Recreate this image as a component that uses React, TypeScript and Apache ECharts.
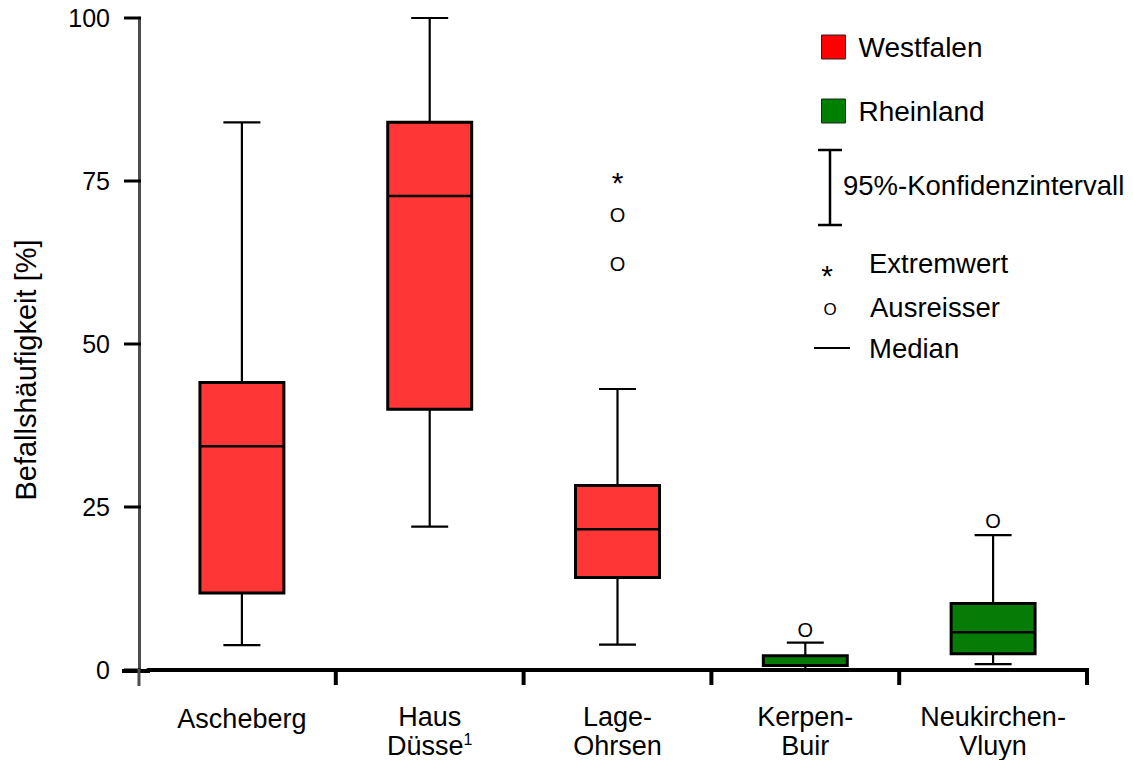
import React, { useEffect, useRef } from "react";
import * as echarts from "echarts";

// ---- data ----
const categories = ["Ascheberg", "Haus Düsse", "Lage-Ohrsen", "Kerpen-Buir", "Neukirchen-Vluyn"];
const tickLabels = ["{asch|Ascheberg}", "Haus\nDüsse{sup|1}", "Lage-\nOhrsen", "Kerpen-\nBuir", "Neukirchen-\nVluyn"];
const region = ["Westfalen", "Westfalen", "Westfalen", "Rheinland", "Rheinland"];
const whiskerLow = [3.8, 22.0, 3.9, 0.1, 0.9];
const quartile1 = [11.8, 40.0, 14.2, 0.7, 2.5];
const median = [34.3, 72.7, 21.6, 0.7, 5.8];
const quartile3 = [44.1, 84.0, 28.3, 2.2, 10.2];
const whiskerHigh = [84.0, 100, 43.1, 4.2, 20.7];
const outlierSites = ["Lage-Ohrsen", "Lage-Ohrsen", "Kerpen-Buir", "Neukirchen-Vluyn"];
const outlierValues = [69.8, 62.3, 6.2, 22.8];
const extremeSites = ["Lage-Ohrsen"];
const extremeValues = [75.9];
const yTickValues = [0, 25, 50, 75, 100];

const FONT = "'Liberation Sans', Arial, Helvetica, sans-serif";
const boxFill: Record<string, string> = { Westfalen: "#ff3636", Rheinland: "#067c06" };
const legendFill: Record<string, string> = { Westfalen: "#ff0000", Rheinland: "#008000" };
const Y_OFFSET = 9;

function boxData(name: string) {
  const out: any[] = [];
  categories.forEach((c, i) => {
    if (region[i] === name) {
      out.push([c, whiskerLow[i], quartile1[i], median[i], quartile3[i], whiskerHigh[i]]);
    }
  });
  return out;
}

function renderBox(fill: string) {
  return (params: any, api: any) => {
    const x = api.value(0);
    const pLo = api.coord([x, api.value(1)]);
    const pQ1 = api.coord([x, api.value(2)]);
    const pMd = api.coord([x, api.value(3)]);
    const pQ3 = api.coord([x, api.value(4)]);
    const pHi = api.coord([x, api.value(5)]);
    const band = api.size([1, 0])[0];
    const bw = band * 0.447;
    const cw = band * 0.197;
    const cx = pLo[0];
    const ls = { stroke: "#000", lineWidth: 2.2 };
    return {
      type: "group",
      children: [
        { type: "line", shape: { x1: cx, y1: pQ3[1], x2: cx, y2: pHi[1] }, style: ls },
        { type: "line", shape: { x1: cx, y1: pQ1[1], x2: cx, y2: pLo[1] }, style: ls },
        { type: "line", shape: { x1: cx - cw / 2, y1: pHi[1], x2: cx + cw / 2, y2: pHi[1] }, style: ls },
        { type: "line", shape: { x1: cx - cw / 2, y1: pLo[1], x2: cx + cw / 2, y2: pLo[1] }, style: ls },
        {
          type: "rect",
          shape: { x: cx - bw / 2, y: pQ3[1], width: bw, height: pQ1[1] - pQ3[1] },
          style: { fill, stroke: "#000", lineWidth: 3 },
        },
        { type: "line", shape: { x1: cx - bw / 2, y1: pMd[1], x2: cx + bw / 2, y2: pMd[1] }, style: { stroke: "#000", lineWidth: 2.5 } },
      ],
    };
  };
}

function renderGlyph(glyph: string, size: number, dy: number) {
  return (params: any, api: any) => {
    const p = api.coord([api.value(0), api.value(1)]);
    return {
      type: "text",
      x: p[0],
      y: p[1] + dy,
      style: { text: glyph, fontSize: size, fontFamily: FONT, fill: "#000", align: "center", verticalAlign: "middle" },
    };
  };
}

// y-axis tick marks (left of the offset axis line)
function renderYTick(params: any, api: any) {
  const c = api.coord([api.value(0), api.value(1)]);
  const band = api.size([1, 0])[0];
  const ax = c[0] - band / 2 - Y_OFFSET;
  return { type: "line", shape: { x1: ax - 15, y1: c[1], x2: ax + 2, y2: c[1] }, style: { stroke: "#000", lineWidth: 3 } };
}

// x-axis boundary tick marks
function renderXTick(params: any, api: any) {
  const c = api.coord([api.value(0), api.value(1)]);
  const band = api.size([1, 0])[0];
  const x = c[0] + (api.value(2) * band) / 2;
  return { type: "line", shape: { x1: x, y1: c[1] - 2, x2: x, y2: c[1] + 15 }, style: { stroke: "#000", lineWidth: 4 } };
}

export default function App() {
  const ref = useRef<HTMLDivElement>(null);
  useEffect(() => {
    if (!ref.current) return;
    const chart = echarts.init(ref.current, null, { renderer: "svg" });
    const regions = ["Westfalen", "Rheinland"];
    const xTickData = categories
      .slice(1)
      .map((c) => [c, 0, -1])
      .concat([[categories[categories.length - 1], 0, 1]]);
    const option: any = {
      animation: false,
      backgroundColor: "#fff",
      textStyle: { fontFamily: FONT },
      grid: { left: 148, right: 46, top: 18, bottom: 89 },
      legend: {
        orient: "vertical",
        left: 816,
        top: 28,
        itemWidth: 24,
        itemHeight: 24,
        itemGap: 36,
        icon: "rect",
        textStyle: { fontSize: 28, color: "#000", lineHeight: 24, fontFamily: FONT, padding: [0, 0, 0, 8] },
        data: regions.map((r) => ({
          name: r,
          itemStyle: { color: legendFill[r], borderColor: "#222", borderWidth: 1 },
        })),
      },
      xAxis: {
        type: "category",
        data: categories,
        boundaryGap: true,
        axisLine: { lineStyle: { color: "#000", width: 4 } },
        axisTick: { show: false },
        axisLabel: {
          interval: 0,
          fontSize: 27,
          lineHeight: 29,
          color: "#000",
          margin: 32,
          fontFamily: FONT,
          formatter: (v: string, i: number) => tickLabels[i],
          rich: {
            sup: { fontSize: 16, lineHeight: 16, verticalAlign: "top", color: "#000", fontFamily: FONT },
            asch: { fontSize: 27, lineHeight: 29, padding: [5, 0, 0, 0], color: "#000", fontFamily: FONT },
          },
        },
        splitLine: { show: false },
      },
      yAxis: {
        type: "value",
        min: 0,
        max: 100,
        interval: 25,
        offset: Y_OFFSET,
        axisLine: { show: true, lineStyle: { color: "#4d4d4d", width: 3 } },
        axisTick: { show: false },
        axisLabel: { fontSize: 25, color: "#000", margin: 29, fontFamily: FONT },
        splitLine: { show: false },
        name: "Befallshäufigkeit [%]",
        nameLocation: "middle",
        nameGap: 99,
        nameTextStyle: { fontSize: 29, color: "#000", fontFamily: FONT, padding: [0, 52, 0, 0] },
      },
      series: [
        ...regions.map((r) => ({
          name: r,
          type: "custom",
          itemStyle: { color: legendFill[r] },
          encode: { x: 0, y: [1, 2, 3, 4, 5] },
          renderItem: renderBox(boxFill[r]),
          data: boxData(r),
          z: 3,
        })),
        {
          name: "Ausreisser",
          type: "custom",
          encode: { x: 0, y: 1 },
          renderItem: renderGlyph("O", 20, 0),
          data: outlierSites.map((s, i) => [s, outlierValues[i]]),
          z: 4,
        },
        {
          name: "Extremwert",
          type: "custom",
          encode: { x: 0, y: 1 },
          renderItem: renderGlyph("*", 30, 7),
          data: extremeSites.map((s, i) => [s, extremeValues[i]]),
          z: 4,
        },
        {
          name: "yTicks",
          type: "custom",
          silent: true,
          clip: false,
          encode: { x: 0, y: 1 },
          renderItem: renderYTick,
          data: yTickValues.map((v) => [categories[0], v]),
          z: 6,
        },
        {
          name: "xTicks",
          type: "custom",
          silent: true,
          clip: false,
          encode: { x: 0, y: 1 },
          renderItem: renderXTick,
          data: xTickData,
          z: 6,
        },
      ],
      graphic: [
        // axis line extensions
        { type: "line", shape: { x1: 122, y1: 671, x2: 150, y2: 671 }, style: { stroke: "#000", lineWidth: 4 }, z: 10 },
        { type: "line", shape: { x1: 139, y1: 669, x2: 139, y2: 686 }, style: { stroke: "#4d4d4d", lineWidth: 3 }, z: 10 },
        // legend key: confidence interval
        { type: "line", shape: { x1: 830, y1: 150, x2: 830, y2: 225 }, style: { stroke: "#000", lineWidth: 2.5 } },
        { type: "line", shape: { x1: 818, y1: 150, x2: 842, y2: 150 }, style: { stroke: "#000", lineWidth: 2.5 } },
        { type: "line", shape: { x1: 818, y1: 225, x2: 842, y2: 225 }, style: { stroke: "#000", lineWidth: 2.5 } },
        { type: "text", x: 843, y: 185, style: { text: "95%-Konfidenzintervall", fontSize: 27.5, fontFamily: FONT, fill: "#000", verticalAlign: "middle" } },
        // extreme value key
        { type: "text", x: 827, y: 275, style: { text: "*", fontSize: 30, fontFamily: FONT, fill: "#000", align: "center", verticalAlign: "middle" } },
        { type: "text", x: 869, y: 263, style: { text: "Extremwert", fontSize: 27.5, fontFamily: FONT, fill: "#000", verticalAlign: "middle" } },
        // outlier key
        { type: "text", x: 830, y: 309, style: { text: "O", fontSize: 17, fontFamily: FONT, fill: "#000", align: "center", verticalAlign: "middle" } },
        { type: "text", x: 870, y: 307, style: { text: "Ausreisser", fontSize: 27.5, fontFamily: FONT, fill: "#000", verticalAlign: "middle" } },
        // median key
        { type: "line", shape: { x1: 814, y1: 348, x2: 850, y2: 348 }, style: { stroke: "#000", lineWidth: 2.2 } },
        { type: "text", x: 869, y: 348, style: { text: "Median", fontSize: 27.5, fontFamily: FONT, fill: "#000", verticalAlign: "middle" } },
      ],
    };
    chart.setOption(option);
    return () => chart.dispose();
  }, []);
  return (
    <div
      ref={ref}
      style={{ position: "absolute", left: 0, top: 0, width: 1133, height: 760, background: "#fff" }}
    />
  );
}
